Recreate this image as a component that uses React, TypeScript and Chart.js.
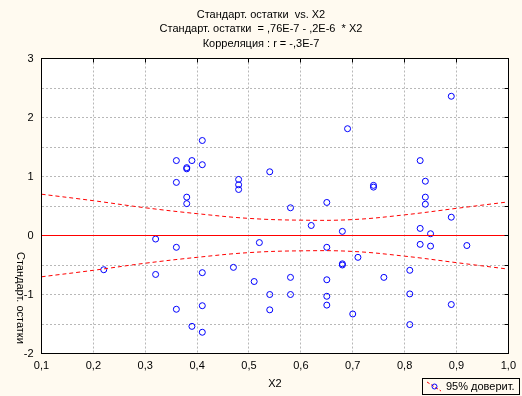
import React, { useEffect, useRef } from "react";
import { Chart, registerables } from "chart.js";
Chart.register(...registerables);

// Residual scatter data (X2 vs standardized residuals)
const residX = [
  0.22, 0.32, 0.32, 0.36, 0.36, 0.36, 0.36, 0.38, 0.38, 0.38,
  0.38, 0.39, 0.39, 0.41, 0.41, 0.41, 0.41, 0.41, 0.47, 0.48,
  0.48, 0.48, 0.51, 0.52, 0.54, 0.54, 0.54, 0.58, 0.58, 0.58,
  0.62, 0.65, 0.65, 0.65, 0.65, 0.65, 0.68, 0.68, 0.68, 0.69,
  0.71, 0.70, 0.74, 0.74, 0.76, 0.81, 0.81, 0.81, 0.83, 0.83,
  0.83, 0.84, 0.84, 0.84, 0.85, 0.85, 0.89, 0.89, 0.89, 0.92,
];
const residY = [
  -0.58, -0.06, -0.66, -0.2, 1.27, 0.9, -1.25, 1.15, 1.13, 0.65,
  0.54, 1.27, -1.54, 1.61, 1.2, -0.63, -1.19, -1.64, -0.54, 0.95,
  0.86, 0.78, -0.78, -0.12, 1.08, -1.0, -1.26, 0.47, -0.71, -1.0,
  0.17, 0.56, -0.2, -0.75, -1.03, -1.18, 0.07, -0.48, -0.5, 1.81,
  -0.37, -1.33, 0.85, 0.82, -0.71, -0.59, -0.99, -1.51, 1.27, 0.12,
  -0.15, 0.92, 0.65, 0.53, 0.03, -0.18, 2.36, 0.31, -1.17, -0.17,
];

// Fitted line and 95% confidence band
const fitX = [0.1, 1.0];
const fitY = [0, 0];
const bandX = [0.1, 0.2, 0.3, 0.4, 0.5, 0.6, 0.7, 0.8, 0.9, 1.0];
const bandUpper = [0.7, 0.59, 0.47, 0.37, 0.29, 0.26, 0.27, 0.35, 0.46, 0.57];
const bandLower = [-0.7, -0.59, -0.47, -0.37, -0.29, -0.26, -0.27, -0.35, -0.46, -0.57];

const titleLines = [
  "Стандарт. остатки  vs. X2",
  "Стандарт. остатки  = ,76E-7 - ,2E-6  * X2",
  "Корреляция : r = -,3E-7",
];
const xTitle = "X2";
const yTitle = "Стандарт. остатки";
const legendLabel = "95% доверит.";

const FONT = '"Liberation Sans", Arial, sans-serif';
const BG = "#fffaf0";

const decor = {
  id: "decor",
  beforeDraw(chart: any) {
    const { ctx, chartArea: a } = chart;
    ctx.save();
    ctx.fillStyle = BG;
    ctx.fillRect(0, 0, chart.width, chart.height);
    ctx.fillStyle = "#ffffff";
    ctx.fillRect(a.left, a.top, a.right - a.left, a.bottom - a.top);
    ctx.restore();
  },
  afterDraw(chart: any) {
    const { ctx, chartArea: a, scales } = chart;
    const L = Math.floor(a.left) + 0.5;
    const T = Math.floor(a.top) + 0.5;
    const R = Math.floor(a.right) + 0.5;
    const B = Math.floor(a.bottom) + 0.5;
    ctx.save();
    // frame
    ctx.strokeStyle = "#000";
    ctx.lineWidth = 1;
    ctx.setLineDash([]);
    ctx.strokeRect(L, T, R - L, B - T);
    // tick marks on top and right (inside)
    ctx.beginPath();
    scales.x.ticks.forEach((t: any) => {
      const px = Math.floor(scales.x.getPixelForValue(t.value)) + 0.5;
      ctx.moveTo(px, T);
      ctx.lineTo(px, T + 4);
    });
    scales.y.ticks.forEach((t: any) => {
      const py = Math.floor(scales.y.getPixelForValue(t.value)) + 0.5;
      ctx.moveTo(R - 4, py);
      ctx.lineTo(R, py);
    });
    ctx.stroke();

    // titles
    ctx.fillStyle = "#000";
    ctx.font = `11px ${FONT}`;
    ctx.textAlign = "center";
    ctx.textBaseline = "middle";
    const ys = [15, 29, 44];
    titleLines.forEach((l, i) => ctx.fillText(l, 261, ys[i]));
    // x title
    ctx.fillText(xTitle, 275, 384);
    // y title rotated clockwise
    ctx.save();
    ctx.translate(20, 252);
    ctx.rotate(Math.PI / 2);
    ctx.textAlign = "left";
    ctx.fillText(yTitle, 0, 0);
    ctx.restore();

    // legend
    ctx.fillStyle = BG;
    ctx.fillRect(422.5, 378.5, 97, 16);
    ctx.strokeStyle = "#000";
    ctx.strokeRect(422.5, 378.5, 97, 16);
    ctx.strokeStyle = "#ff0000";
    ctx.setLineDash([3, 2]);
    ctx.beginPath();
    ctx.moveTo(427, 382);
    ctx.lineTo(441, 391);
    ctx.stroke();
    ctx.setLineDash([]);
    ctx.strokeStyle = "#0000ff";
    ctx.beginPath();
    ctx.arc(434.5, 386.5, 2.5, 0, Math.PI * 2);
    ctx.stroke();
    ctx.fillStyle = "#000";
    ctx.textAlign = "left";
    ctx.fillText(legendLabel, 446, 387);
    ctx.restore();
  },
};

export default function App() {
  const ref = useRef<HTMLCanvasElement>(null);
  useEffect(() => {
    document.body.style.margin = "0";
    const pts = residX.map((x, i) => ({ x, y: residY[i] }));
    const up = bandX.map((x, i) => ({ x, y: bandUpper[i] }));
    const lo = bandX.map((x, i) => ({ x, y: bandLower[i] }));
    const fit = fitX.map((x, i) => ({ x, y: fitY[i] }));
    const chart = new Chart(ref.current!, {
      type: "scatter",
      data: {
        datasets: [
          {
            type: "line",
            data: up,
            borderColor: "#ff0000",
            borderWidth: 1,
            borderDash: [4, 3],
            pointRadius: 0,
            tension: 0.4,
            fill: false,
          },
          {
            type: "line",
            data: lo,
            borderColor: "#ff0000",
            borderWidth: 1,
            borderDash: [4, 3],
            pointRadius: 0,
            tension: 0.4,
            fill: false,
          },
          {
            type: "line",
            data: fit,
            borderColor: "#ff0000",
            borderWidth: 1,
            pointRadius: 0,
            fill: false,
          },
          {
            data: pts,
            pointStyle: "circle",
            pointRadius: 3,
            borderWidth: 1,
            borderColor: "#0000ff",
            backgroundColor: "rgba(0,0,0,0)",
          },
        ],
      } as any,
      options: {
        responsive: false,
        animation: false,
        layout: { padding: { top: 58.5, right: 12.5, left: 0, bottom: 0 } },
        plugins: { legend: { display: false }, tooltip: { enabled: false }, title: { display: false } },
        scales: {
          x: {
            type: "linear",
            min: 0.1,
            max: 1.0,
            afterFit: (s: any) => { s.height = 42.5; },
            grid: { color: "#b8b8b8", drawTicks: false },
            border: { display: false, dash: [2, 2] },
            ticks: {
              stepSize: 0.1,
              padding: 6,
              color: "#000",
              font: { family: FONT, size: 11 },
              maxRotation: 0,
              callback: (v: any) => Number(v).toFixed(1).replace(".", ","),
            },
          },
          y: {
            type: "linear",
            min: -2,
            max: 3,
            afterFit: (s: any) => { s.width = 41.5; },
            grid: { color: "#b8b8b8", drawTicks: false },
            border: { display: false, dash: [2, 2] },
            ticks: {
              stepSize: 0.5,
              padding: 8,
              color: "#000",
              font: { family: FONT, size: 11 },
              callback: (v: any) => (Number.isInteger(Number(v)) ? String(v) : ""),
            },
          },
        },
      } as any,
      plugins: [decor],
    });
    return () => chart.destroy();
  }, []);
  return (
    <div style={{ width: 522, height: 396 }}>
      <canvas ref={ref} width={522} height={396} />
    </div>
  );
}
